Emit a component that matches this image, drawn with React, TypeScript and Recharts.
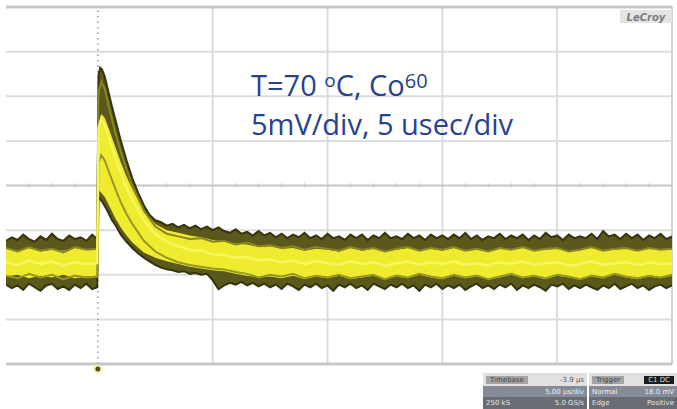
import React from "react";
import { ComposedChart, Area, Line, XAxis, YAxis, ReferenceLine, ReferenceDot } from "recharts";

// Time in microseconds (5 us/div, trigger at 0), amplitude in mV (5 mV/div).
const edgeTime = [
  -4, -3.75, -3.5, -3.25, -3, -2.75, -2.5, -2.25, -2, -1.75, -1.5, -1.25, -1, -0.75, -0.5, -0.25, -0.03,
  0.03, 0.1, 0.18, 0.3, 0.45, 0.6, 0.8, 1, 1.25, 1.5, 1.75, 2, 2.25, 2.5, 2.75, 3,
  3.25, 3.5, 3.75, 4, 4.25, 4.5, 4.75, 5, 5.25, 5.5, 5.75, 6, 6.25, 6.5, 6.75, 7,
  7.25, 7.5, 7.75, 8, 8.25, 8.5, 8.75, 9, 9.25, 9.5, 9.75, 10, 10.25, 10.5, 10.75, 11,
  11.25, 11.5, 11.75, 12, 12.25, 12.5, 12.75, 13, 13.25, 13.5, 13.75, 14, 14.25, 14.5, 14.75, 15,
  15.25, 15.5, 15.75, 16, 16.25, 16.5, 16.75, 17, 17.25, 17.5, 17.75, 18, 18.25, 18.5, 18.75, 19,
  19.25, 19.5, 19.75, 20, 20.25, 20.5, 20.75, 21, 21.25, 21.5, 21.75, 22, 22.25, 22.5, 22.75, 23,
  23.25, 23.5, 23.75, 24, 24.25, 24.5, 24.75, 25,
];

// top of the persistence band
const upperEdge = [
  -6.2, -5.8, -6.1, -5.5, -6.0, -6.3, -5.7, -6.1, -5.4, -6.0, -6.2, -5.6, -6.0, -5.8, -6.2, -5.5, -6.0,
  12.4, 13.2, 13.0, 12.2, 10.6, 9.0, 7.0, 5.0, 2.8, 0.8, -0.8, -2.2, -3.3, -3.9, -4.1, -4.5,
  -4.3, -4.7, -4.4, -4.8, -4.5, -4.9, -4.6, -5.0,
  -4.7, -5.1, -5.3, -4.9, -5.4, -5.2, -5.6, -5.1,
  -5.6, -5.3, -5.8, -5.4, -5.9, -5.5, -5.8, -5.3,
  -5.9, -5.6, -6.0, -5.4, -5.9, -5.7, -6.1, -5.5,
  -5.9, -5.5, -6.1, -5.6, -5.9, -5.3, -5.9, -5.7,
  -6.0, -5.4, -5.9, -5.6, -6.1, -5.5, -5.9, -5.6,
  -6.0, -5.5, -5.9, -5.3, -6.0, -5.6, -6.1, -5.7,
  -5.9, -5.4, -6.0, -5.6, -5.9, -5.5, -6.1, -5.6,
  -6.0, -5.3, -5.8, -5.6, -6.1, -5.5, -5.9, -5.7,
  -5.9, -5.4, -6.0, -5.1, -5.7, -5.5, -6.0, -5.4,
  -5.9, -5.5, -6.1, -5.6, -5.9, -5.4, -6.0, -5.7,
];

// bottom of the persistence band
const lowerEdge = [
  -11.1, -11.5, -11.2, -11.7, -11.0, -11.4, -11.8, -11.2, -11.0, -11.6, -11.3, -11.7, -11.1, -11.5, -11.0, -11.6, -11.4,
  -1.4, -1.5, -1.8, -2.3, -3.0, -3.8, -4.6, -5.5, -6.3, -7.0, -7.6, -8.1, -8.5, -8.9, -9.2, -9.4,
  -9.5, -9.7, -9.6, -9.9, -9.8, -10.0, -9.9, -10.6,
  -11.6, -11.2, -10.9, -11.1, -10.8, -11.2, -10.9, -11.3,
  -11.0, -11.4, -11.1, -11.6, -11.0, -11.3, -11.7, -11.1,
  -11.4, -11.0, -11.5, -11.2, -11.8, -11.1, -11.4, -11.0,
  -11.5, -11.2, -11.7, -11.0, -11.3, -11.6, -11.1, -11.4,
  -11.0, -11.5, -11.2, -11.8, -11.1, -11.4, -11.0, -11.6,
  -11.2, -11.5, -11.1, -11.7, -11.3, -11.0, -11.5, -11.2,
  -11.6, -11.1, -11.4, -11.0, -11.7, -11.2, -11.5, -11.1,
  -11.4, -11.8, -11.1, -11.3, -11.0, -11.6, -11.2, -11.5,
  -11.1, -11.4, -11.7, -11.2, -11.5, -11.0, -11.6, -11.3,
  -11.0, -11.5, -11.2, -11.7, -11.3, -11.1, -11.5, -11.2,
];

const traceTime = [
  -4, -3.5, -3, -2.5, -2, -1.5, -1, -0.5, -0.03,
  0.03, 0.15, 0.3, 0.5, 0.75, 1, 1.25, 1.5, 2, 2.5, 3,
  3.5, 4, 4.5, 5, 5.5, 6, 6.5, 7,
  7.5, 8, 8.5, 9, 9.5, 10, 10.5, 11,
  11.5, 12, 12.5, 13, 13.5, 14, 14.5, 15,
  15.5, 16, 16.5, 17, 17.5, 18, 18.5, 19,
  19.5, 20, 20.5, 21, 21.5, 22, 22.5, 23,
  23.5, 24, 24.5, 25,
];

// bright core of the band
const coreHigh = [
  -7.1, -7.3, -7.0, -7.4, -7.2, -7.3, -7.0, -7.2, -7.1,
  7.0, 8.0, 7.6, 6.2, 4.4, 2.6, 1.0, -0.4, -2.8, -4.3, -5.0,
  -5.3, -5.6, -5.8, -6.1, -6.3, -6.5, -6.6, -6.9,
  -6.8, -7.1, -7.0, -7.3, -7.1, -7.2, -7.4, -7.0,
  -7.3, -7.1, -7.4, -7.2, -7.0, -7.3, -7.1, -7.3,
  -7.0, -7.3, -7.2, -7.4, -7.1, -7.2, -7.0, -7.3,
  -7.2, -7.1, -7.4, -7.2, -7.0, -7.3, -7.2, -7.1,
  -7.3, -7.1, -7.2, -7.2,
];
const coreLow = [
  -10.2, -10.0, -10.4, -10.1, -10.3, -10.0, -10.4, -10.2, -10.1,
  -0.5, -0.8, -1.3, -2.3, -3.6, -4.7, -5.6, -6.4, -7.5, -8.1, -8.5,
  -8.8, -9.1, -9.3, -9.5, -9.6, -9.9, -10.1, -10.3,
  -10.2, -10.4, -10.1, -10.5, -10.2, -10.4, -10.1, -10.5,
  -10.3, -10.1, -10.5, -10.2, -10.4, -10.0, -10.3, -10.5,
  -10.1, -10.4, -10.2, -10.5, -10.3, -10.0, -10.4, -10.2,
  -10.5, -10.1, -10.3, -10.5, -10.2, -10.4, -10.0, -10.3,
  -10.5, -10.2, -10.4, -10.1,
];

// individual sweeps overlaid in persistence
const traceA = [
  -7.0, -7.4, -6.9, -7.3, -7.1, -7.5, -6.9, -7.2, -7.1,
  10.5, 11.6, 10.8, 8.6, 6.0, 3.8, 1.8, 0.0, -2.8, -4.6, -5.4,
  -5.7, -6.0, -5.9, -6.3, -6.2, -6.6, -6.4, -6.8,
  -6.7, -7.0, -6.8, -7.2, -6.9, -7.1, -7.3, -6.9,
  -7.2, -7.0, -7.4, -7.1, -6.9, -7.3, -7.0, -7.2,
  -6.9, -7.3, -7.1, -7.4, -7.0, -7.2, -6.9, -7.3,
  -7.1, -7.0, -7.4, -7.2, -6.9, -7.3, -7.1, -7.0,
  -7.3, -7.0, -7.2, -7.1,
];
const traceB = [
  -8.6, -8.9, -8.4, -8.8, -8.5, -9.0, -8.6, -8.8, -8.7,
  6.5, 7.4, 6.8, 5.2, 3.2, 1.4, -0.2, -1.6, -3.9, -5.4, -6.3,
  -6.8, -7.2, -7.3, -7.7, -7.8, -8.1, -8.0, -8.4,
  -8.3, -8.6, -8.4, -8.8, -8.5, -8.7, -8.9, -8.5,
  -8.8, -8.6, -9.0, -8.7, -8.5, -8.9, -8.6, -8.8,
  -8.5, -8.9, -8.7, -9.0, -8.6, -8.8, -8.5, -8.9,
  -8.7, -8.6, -9.0, -8.8, -8.5, -8.9, -8.7, -8.6,
  -8.9, -8.6, -8.8, -8.7,
];
const traceC = [
  -10.1, -10.4, -9.9, -10.3, -10.0, -10.5, -10.1, -10.3, -10.2,
  2.6, 3.4, 2.8, 1.4, -0.3, -1.9, -3.2, -4.3, -6.2, -7.4, -8.1,
  -8.6, -8.9, -9.1, -9.3, -9.4, -9.7, -9.9, -10.3,
  -10.0, -10.2, -9.9, -10.4, -10.1, -10.3, -10.0, -10.4,
  -10.2, -10.0, -10.5, -10.1, -10.3, -9.9, -10.2, -10.4,
  -10.0, -10.3, -10.1, -10.5, -10.2, -9.9, -10.3, -10.1,
  -10.4, -10.0, -10.2, -10.5, -10.1, -10.3, -9.9, -10.2,
  -10.4, -10.1, -10.3, -10.0,
];

const timeGrid = [5, 10, 15, 20];
const voltGrid = [-15, -10, -5, 5, 10, 15];
const minorTicks = [-3, -2, -1, 1, 2, 3, 4, 6, 7, 8, 9, 11, 12, 13, 14, 16, 17, 18, 19, 21, 22, 23, 24];

const bandRows = edgeTime.map((t, i) => ({ t, band: [lowerEdge[i], upperEdge[i]] }));
const traceRows = traceTime.map((t, i) => ({
  t,
  core: [coreLow[i], coreHigh[i]],
  a: traceA[i],
  b: traceB[i],
  c: traceC[i],
}));

const GRID = "#dcdcdc";
const TEXT_BLUE = "#27428f";
const BEHIND = -60; // grid sits under the traces

const cell: React.CSSProperties = {
  display: "flex",
  justifyContent: "space-between",
  alignItems: "center",
  padding: "0 3px",
  fontFamily: "'DejaVu Sans', sans-serif",
  fontSize: 7,
  whiteSpace: "nowrap",
};

const StatusBox = () => (
  <div
    style={{
      position: "absolute",
      left: 483,
      top: 373,
      width: 194,
      height: 36,
      display: "grid",
      gridTemplateColumns: "104px 90px",
      gridTemplateRows: "13px 11px 12px",
    }}
  >
    <div style={{ ...cell, background: "#e1e1e1", color: "#555" }}>
      <span style={{ background: "#a3a3a3", color: "#444", padding: "0 4px" }}>Timebase</span>
      <span>-3.9 µs</span>
    </div>
    <div style={{ ...cell, background: "#e1e1e1", color: "#555", borderLeft: "2px solid #fff" }}>
      <span style={{ background: "#a3a3a3", color: "#444", padding: "0 4px" }}>Trigger</span>
      <span style={{ background: "#1c1c1c", color: "#ddd", padding: "0 4px" }}>C1 DC</span>
    </div>
    <div style={{ ...cell, background: "#858c98", color: "#eef" }}>
      <span />
      <span>5.00 µs/div</span>
    </div>
    <div style={{ ...cell, background: "#858c98", color: "#eef", borderLeft: "2px solid #fff" }}>
      <span>Normal</span>
      <span>18.0 mV</span>
    </div>
    <div style={{ ...cell, background: "#686d73", color: "#e6e6e6" }}>
      <span>250 kS</span>
      <span>5.0 GS/s</span>
    </div>
    <div style={{ ...cell, background: "#686d73", color: "#e6e6e6", borderLeft: "2px solid #fff" }}>
      <span>Edge</span>
      <span>Positive</span>
    </div>
  </div>
);

export default function App() {
  return (
    <div style={{ position: "relative", width: 677, height: 409, background: "#fff", overflow: "hidden" }}>
      <style>{"body{margin:0}"}</style>
      <ComposedChart width={677} height={409} data={bandRows} margin={{ top: 7, right: 5, bottom: 45, left: 6 }}>
        <XAxis dataKey="t" type="number" domain={[-4, 25]} allowDataOverflow hide />
        <YAxis type="number" domain={[-20, 20]} allowDataOverflow hide />

        {timeGrid.map((x) => (
          <ReferenceLine key={`vx${x}`} x={x} stroke={GRID} strokeWidth={2} zIndex={BEHIND} />
        ))}
        {voltGrid.map((y) => (
          <ReferenceLine key={`hy${y}`} y={y} stroke={GRID} strokeWidth={2} zIndex={BEHIND} />
        ))}
        <ReferenceLine x={25} stroke="#d2d2d2" strokeWidth={2} zIndex={BEHIND} />
        <ReferenceLine y={0} stroke="#c6c6c6" strokeWidth={2} zIndex={BEHIND} />
        <ReferenceLine y={20} stroke="#c8c8c8" strokeWidth={3} zIndex={BEHIND} />
        <ReferenceLine y={-20} stroke="#c8c8c8" strokeWidth={3} zIndex={BEHIND} />
        {minorTicks.map((x) => (
          <ReferenceLine
            key={`mt${x}`}
            segment={[{ x, y: -0.25 }, { x, y: 0.25 }]}
            stroke="#c6c6c6"
            strokeWidth={1}
            zIndex={BEHIND}
          />
        ))}
        <ReferenceLine x={0} stroke="#9a9a9a" strokeWidth={1.5} strokeDasharray="1.5 4" zIndex={BEHIND} />

        <Area
          dataKey="band"
          type="linear"
          fill="#5a581a"
          fillOpacity={1}
          stroke="#35340e"
          strokeWidth={2}
          isAnimationActive={false}
        />
        <Area
          data={traceRows}
          dataKey="core"
          type="linear"
          fill="#efec2f"
          fillOpacity={1}
          stroke="none"
          isAnimationActive={false}
        />
        <Line data={traceRows} dataKey="a" type="linear" stroke="#8a8622" strokeWidth={2} dot={false} isAnimationActive={false} />
        <Line data={traceRows} dataKey="c" type="linear" stroke="#9a9626" strokeWidth={2} dot={false} isAnimationActive={false} />
        <Line data={traceRows} dataKey="b" type="linear" stroke="#f8f65e" strokeWidth={2.5} dot={false} isAnimationActive={false} />

        <ReferenceDot
          x={0}
          y={-20}
          ifOverflow="visible"
          shape={(p: any) => (
            <g>
              <circle cx={p.cx} cy={p.cy + 5} r={5} fill="#f4f27a" fillOpacity={0.5} />
              <circle cx={p.cx} cy={p.cy + 5} r={2.5} fill="#4f4d18" />
            </g>
          )}
        />
      </ComposedChart>

      <svg width={677} height={409} style={{ position: "absolute", left: 0, top: 0, pointerEvents: "none" }}>
        <text x={251} y={96} fontFamily="'Open Sans', sans-serif" fontSize={29} fill={TEXT_BLUE}>
          T=70 <tspan fontSize={19} dy={-9}>o</tspan>
          <tspan fontSize={29} dy={9}>C, Co</tspan>
          <tspan fontSize={20} dy={-8}>60</tspan>
        </text>
        <text x={251} y={135} fontFamily="'Open Sans', sans-serif" fontSize={29} fill={TEXT_BLUE}>
          5mV/div, 5 usec/div
        </text>
        <rect x={620} y={10} width={52} height={13} fill="#e4e4e4" />
        <text
          x={646}
          y={20.5}
          textAnchor="middle"
          fontFamily="'DejaVu Sans', sans-serif"
          fontSize={10}
          fontWeight="bold"
          fontStyle="italic"
          fill="#7c7c7c"
        >
          LeCroy
        </text>
      </svg>

      <StatusBox />
    </div>
  );
}
